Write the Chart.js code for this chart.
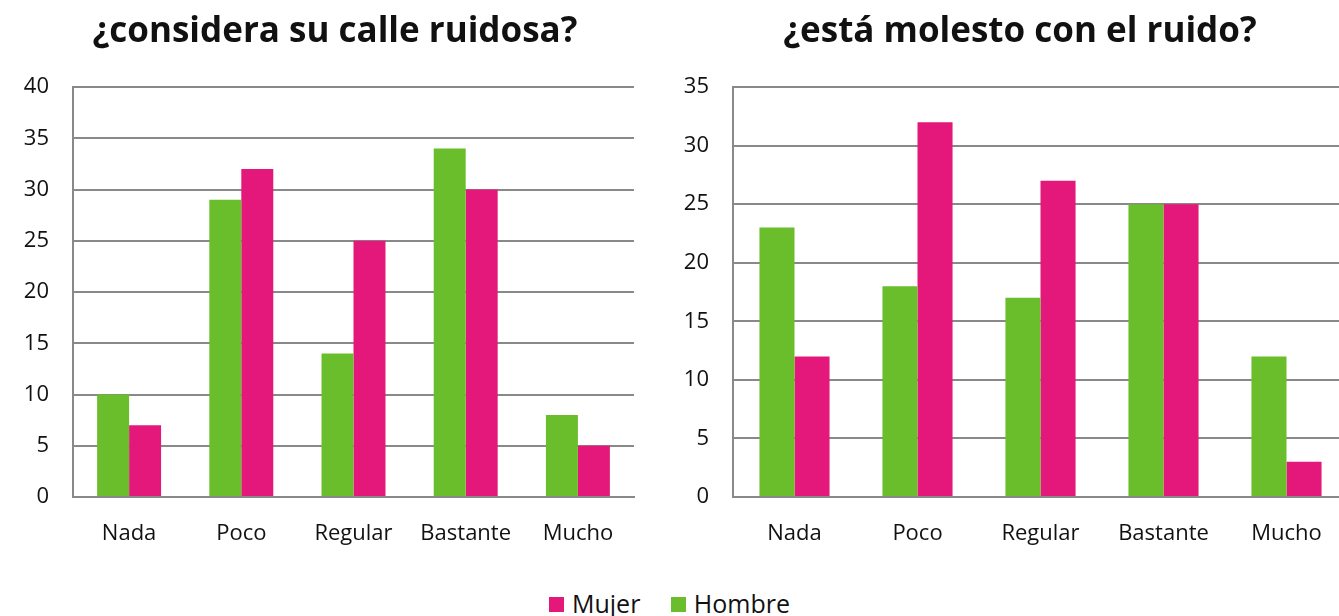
<!DOCTYPE html>
<html>
<head>
<meta charset="utf-8">
<script src="https://cdn.jsdelivr.net/npm/chart.js@4.4.0/dist/chart.umd.min.js"></script>
<style>
  body { margin: 0; width: 1339px; height: 616px; overflow: hidden; position: relative; background: #fff; }
  #izq { position: absolute; left: 0; top: 0; width: 670px; height: 560px; }
  #der { position: absolute; left: 670px; top: 0; width: 700px; height: 560px; }
  #leyenda { position: absolute; left: 0; width: 1339px; top: 586px; text-align: center; line-height: 34px;
    font-family: "Open Sans", sans-serif; font-size: 25px; color: #111; white-space: nowrap; }
  #leyenda span.caja { display: inline-block; width: 15px; height: 15px; margin-right: 8px; vertical-align: 1px; }
  #leyenda span.item { margin: 0 12px; }
</style>
</head>
<body>
<div id="izq"><canvas id="chartCalle"></canvas></div>
<div id="der"><canvas id="chartMolesto"></canvas></div>
<div id="leyenda">
  <span class="item"><span class="caja" style="background:#e4187b"></span>Mujer</span>
  <span class="item"><span class="caja" style="background:#6abd2b"></span>Hombre</span>
</div>
<script>
var categorias = ['Nada', 'Poco', 'Regular', 'Bastante', 'Mucho'];

// ¿considera su calle ruidosa?
var calleHombre = [10, 29, 14, 34, 8];
var calleMujer = [7, 32, 25, 30, 5];

// ¿está molesto con el ruido?
var molestoHombre = [23, 18, 17, 25, 12];
var molestoMujer = [12, 32, 27, 25, 3];

var verde = '#6abd2b';
var rosa = '#e4187b';
var gris = '#898989';

function crearGrafico(ctx, titulo, hombre, mujer, maximo, anchoEje, margenDer) {
    return new Chart(ctx, {
        type: 'bar',
        data: {
            labels: categorias,
            datasets: [{
                label: 'Hombre',
                data: hombre,
                backgroundColor: verde,
                categoryPercentage: 0.57,
                barPercentage: 1
            }, {
                label: 'Mujer',
                data: mujer,
                backgroundColor: rosa,
                categoryPercentage: 0.57,
                barPercentage: 1
            }]
        },
        options: {
            responsive: true,
            maintainAspectRatio: false,
            animation: false,
            layout: { padding: 0 },
            plugins: {
                legend: { display: false },
                tooltip: { enabled: false },
                title: {
                    display: true,
                    text: titulo,
                    color: '#111',
                    font: { family: 'Open Sans', size: 35, weight: 'bold', lineHeight: 1.2 },
                    padding: { top: 11, bottom: 34 }
                }
            },
            scales: {
                x: {
                    grid: { display: false },
                    border: { display: true, color: gris, width: 2 },
                    ticks: { color: '#111', font: { family: 'Open Sans', size: 22 }, padding: 16 },
                    afterFit: function (eje) { eje.height = 63; }
                },
                y: {
                    min: 0,
                    max: maximo,
                    ticks: { stepSize: 5, color: '#111', font: { family: 'Open Sans', size: 22 }, padding: 24 },
                    grid: { color: gris, lineWidth: 2, drawTicks: false },
                    border: { display: true, color: gris, width: 2 },
                    afterFit: function (eje) { eje.width = anchoEje; }
                },
                // eje vacío a la derecha, solo deja el margen para que el título quede centrado en el lienzo
                margen: {
                    type: 'linear',
                    position: 'right',
                    ticks: { display: false },
                    grid: { display: false },
                    border: { display: false },
                    afterFit: function (eje) { eje.width = margenDer; }
                }
            }
        }
    });
}

crearGrafico(document.getElementById('chartCalle'), '¿considera su calle ruidosa?', calleHombre, calleMujer, 40, 73, 36);
crearGrafico(document.getElementById('chartMolesto'), '¿está molesto con el ruido?', molestoHombre, molestoMujer, 35, 63, 22);
</script>
</body>
</html>
